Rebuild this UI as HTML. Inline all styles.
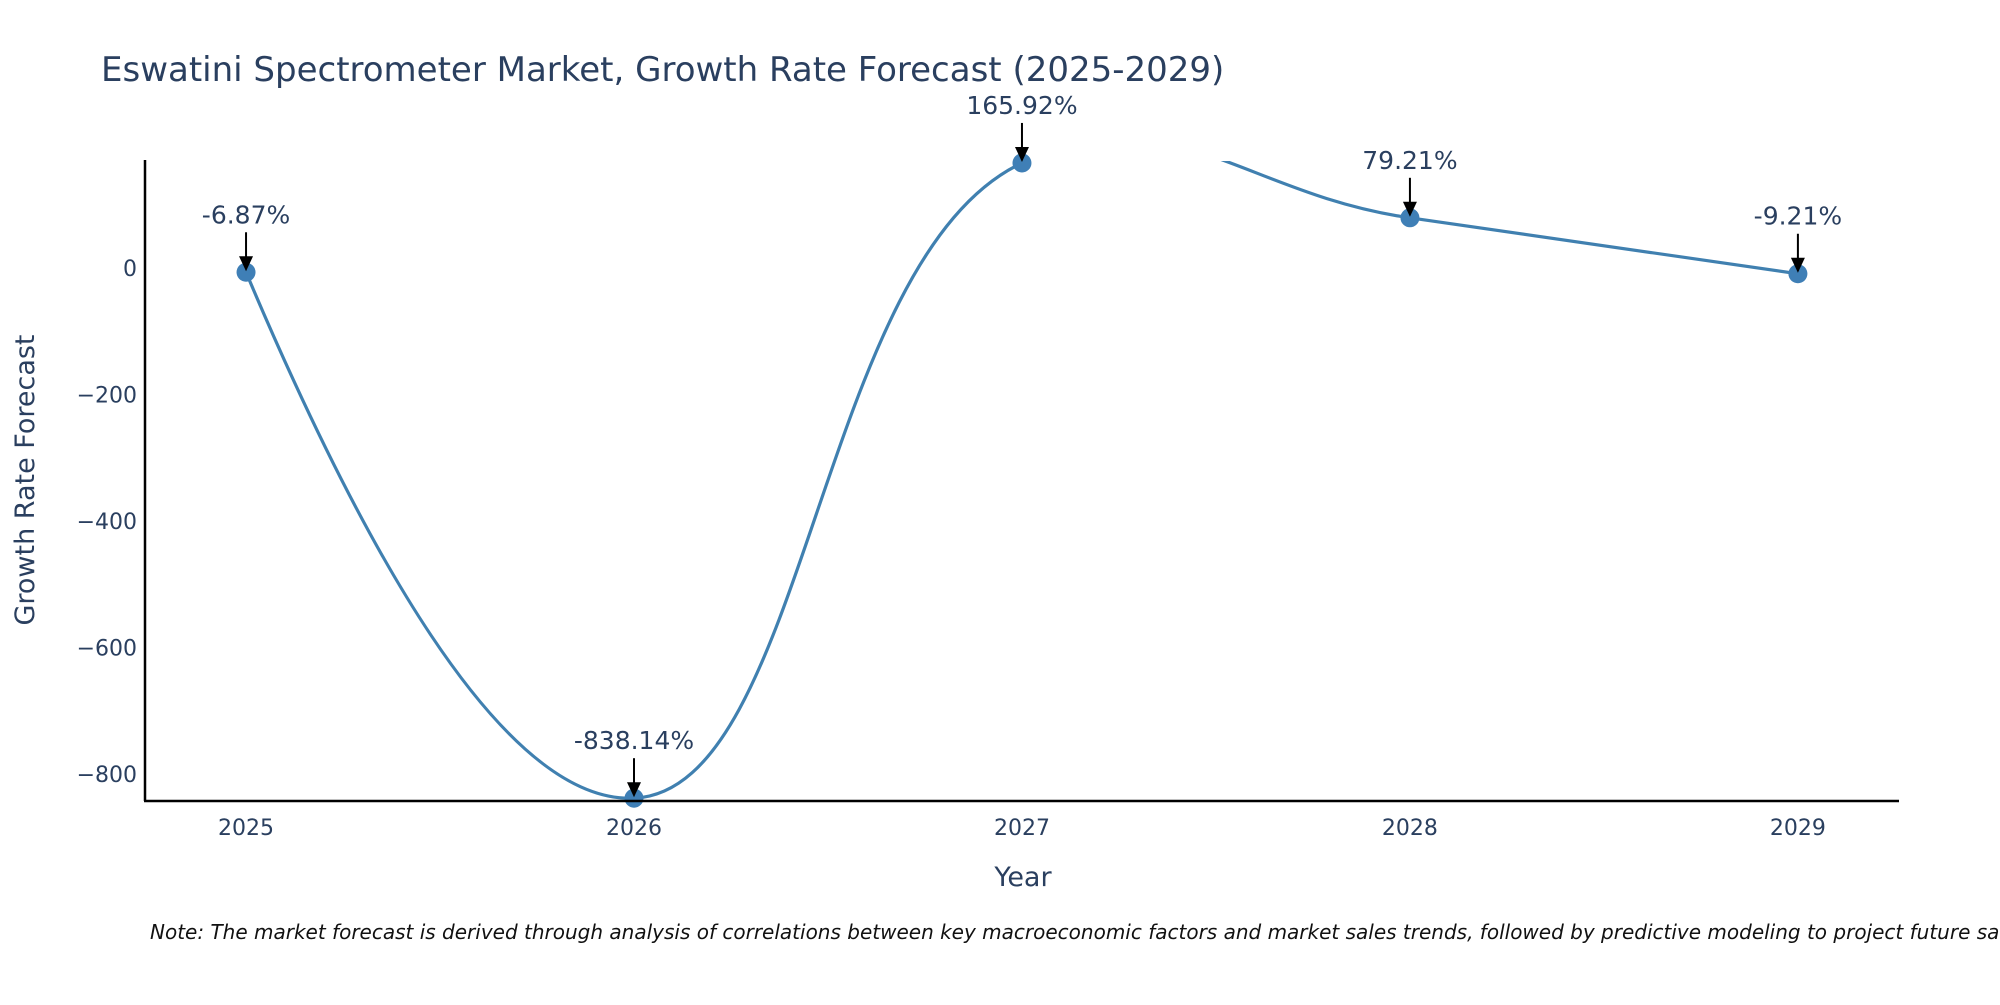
<!DOCTYPE html>
<html><head><meta charset="utf-8"><style>
body{margin:0;background:#fff;overflow:hidden;}
svg text{font-family:"DejaVu Sans","Liberation Sans",sans-serif;fill:#2a3f5f;}
</style></head><body>
<svg id="chart" width="2000" height="1000" xmlns="http://www.w3.org/2000/svg">
<defs>
<clipPath id="plotclip"><rect x="144" y="161" width="1754" height="639"/></clipPath>
</defs>
<text x="101" y="81" font-size="34">Eswatini Spectrometer Market, Growth Rate Forecast (2025-2029)</text>
<g id="yticks"></g>
<g id="xticks"></g>
<g clip-path="url(#plotclip)"><path id="line" fill="none" stroke="#4080b0" stroke-width="3.2"/></g>
<g id="points"></g>
<g id="annots"></g>
<line x1="145" y1="160" x2="145" y2="801" stroke="#000" stroke-width="2.5"/>
<line x1="144" y1="801" x2="1899" y2="801" stroke="#000" stroke-width="2.5"/>
<text transform="translate(34,480) rotate(-90)" text-anchor="middle" font-size="27">Growth Rate Forecast</text>
<text x="1023" y="886" text-anchor="middle" font-size="27">Year</text>
<text x="150" y="939" font-size="20" font-style="italic" style="fill:#111">Note: The market forecast is derived through analysis of correlations between key macroeconomic factors and market sales trends, followed by predictive modeling to project future sales.</text>
</svg>
<script>
const years = [2025, 2026, 2027, 2028, 2029];
const growth = [-6.87, -838.14, 165.92, 79.21, -9.21];
const labels = ["-6.87%", "-838.14%", "165.92%", "79.21%", "-9.21%"];
const yTickVals = [0, -200, -400, -600, -800];
const yTickText = ["0", "\u2212200", "\u2212400", "\u2212600", "\u2212800"];

const NS = "http://www.w3.org/2000/svg";
const X0 = 144, X1 = 1898, Y0 = 800, Y1 = 161;
const xMin = 2024.737, xMax = 2029.258, yMin = -841, yMax = 169;
function xs(v){return X0 + (v - xMin) / (xMax - xMin) * (X1 - X0);}
function ys(v){return Y0 - (v - yMin) / (yMax - yMin) * (Y0 - Y1);}
function mk(tag, attrs){const e = document.createElementNS(NS, tag); for (const k in attrs) e.setAttribute(k, attrs[k]); return e;}

const yt = document.getElementById('yticks');
yTickVals.forEach((v, i) => {
  const t = mk('text', {x: 137, y: ys(v) + 8, 'text-anchor': 'end', 'font-size': 22});
  
  
  t.textContent = yTickText[i]; yt.appendChild(t);
});
const xt = document.getElementById('xticks');
years.forEach(v => {
  const t = mk('text', {x: xs(v), y: 835, 'text-anchor': 'middle', 'font-size': 22});
  
  
  t.textContent = String(v); xt.appendChild(t);
});

const P = years.map((y, i) => [xs(y), ys(growth[i])]);
function tangent(a, b, c, sm) {
  const d1x = a[0]-b[0], d1y = a[1]-b[1], d2x = c[0]-b[0], d2y = c[1]-b[1];
  const d1a = Math.pow(d1x*d1x + d1y*d1y, 0.25), d2a = Math.pow(d2x*d2x + d2y*d2y, 0.25);
  const numx = (d2a*d2a*d1x - d1a*d1a*d2x) * sm, numy = (d2a*d2a*d1y - d1a*d1a*d2y) * sm;
  const den1 = 3 * d2a * (d1a + d2a), den2 = 3 * d1a * (d1a + d2a);
  return [[b[0] + numx/den1, b[1] + numy/den1], [b[0] - numx/den2, b[1] - numy/den2]];
}
const T = [];
for (let i = 1; i < P.length - 1; i++) T.push(tangent(P[i-1], P[i], P[i+1], 1.3));
let d = 'M' + P[0] + 'Q' + T[0][0] + ' ' + P[1];
for (let i = 2; i < P.length - 1; i++) d += 'C' + T[i-2][1] + ' ' + T[i-1][0] + ' ' + P[i];
d += 'Q' + T[P.length-3][1] + ' ' + P[P.length-1];
document.getElementById('line').setAttribute('d', d);

const pts = document.getElementById('points');
const an = document.getElementById('annots');
P.forEach((p, i) => {
  const c = mk('circle', {cx: p[0], cy: p[1], r: 9.5, fill: '#3f7fb6'});
  
  
  pts.appendChild(c);
  const ln = mk('line', {x1: p[0], y1: p[1] - 40, x2: p[0], y2: p[1] - 14, stroke: '#000', 'stroke-width': 2});
  
  
  an.appendChild(ln);
  const hd = mk('polygon', {points: (p[0]-7)+','+(p[1]-16)+' '+(p[0]+7)+','+(p[1]-16)+' '+p[0]+','+(p[1]-1), fill: '#000'});
  
  
  an.appendChild(hd);
  const t = mk('text', {x: p[0], y: p[1] - 49, 'text-anchor': 'middle', 'font-size': 25});
  
  
  t.textContent = labels[i]; an.appendChild(t);
});
</script>
</body></html>
